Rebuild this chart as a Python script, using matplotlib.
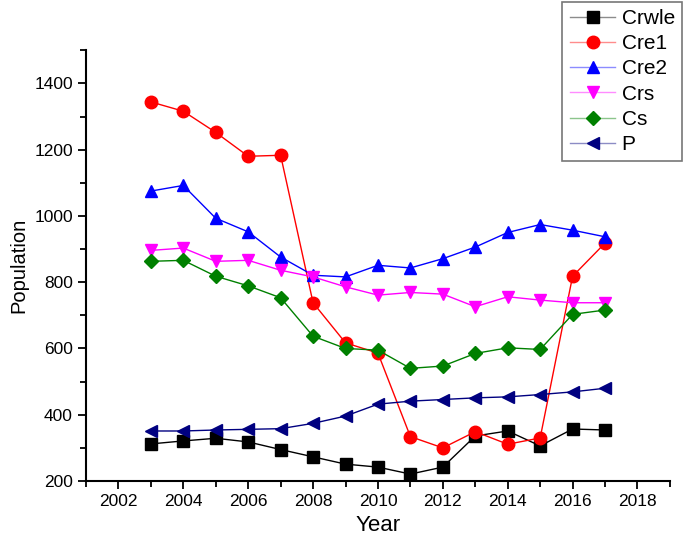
import matplotlib
matplotlib.use("Agg")
import matplotlib.pyplot as plt
from matplotlib.ticker import MultipleLocator
from matplotlib.colors import to_rgba

plt.rcParams['font.family'] = ['Liberation Sans', 'DejaVu Sans']

years = list(range(2003, 2018))
crwle = [312, 321, 329, 318, 295, 273, 251, 242, 221, 242, 336, 351, 306, 357, 354]
cre1 = [1344, 1316, 1252, 1180, 1183, 738, 617, 586, 334, 300, 349, 311, 330, 818, 918]
cre2 = [1075, 1092, 993, 952, 876, 821, 816, 851, 843, 871, 906, 950, 974, 957, 937]
crs = [896, 903, 863, 866, 836, 816, 786, 761, 769, 764, 726, 756, 746, 738, 738]
cs = [863, 866, 818, 789, 753, 637, 600, 595, 540, 547, 585, 602, 597, 703, 716]
p = [351, 351, 354, 356, 358, 374, 396, 432, 441, 446, 451, 454, 461, 469, 480]

series = [
    ("Crwle", crwle, "black", "s", 8),
    ("Cre1", cre1, "red", "o", 9),
    ("Cre2", cre2, "blue", "^", 9),
    ("Crs", crs, "magenta", "v", 9),
    ("Cs", cs, "green", "D", 7.5),
    ("P", p, "navy", "<", 9),
]

fig = plt.figure(figsize=(6.85, 5.46), dpi=100)
ax = fig.add_axes([0.1255, 0.119, 0.8525, 0.789])

for name, vals, col, mk, ms in series:
    ax.plot(years, vals, color=col, marker=mk, markersize=ms, linewidth=1.0,
            markeredgecolor=col, label=name)

ax.set_xlim(2001, 2019)
ax.set_ylim(200, 1500)
ax.xaxis.set_minor_locator(MultipleLocator(1))
ax.yaxis.set_minor_locator(MultipleLocator(100))
ax.set_xticks(range(2002, 2019, 2))
ax.set_yticks(range(200, 1401, 200))

for s in ("top", "right"):
    ax.spines[s].set_visible(False)
for s in ("left", "bottom"):
    ax.spines[s].set_linewidth(1.5)

ax.tick_params(which="major", direction="out", length=6, width=1.3, labelsize=12.5)
ax.tick_params(which="minor", direction="out", length=4, width=1.3)

ax.set_xlabel("Year", fontsize=16)
ax.set_ylabel("Population", fontsize=14.5)

leg = fig.legend(loc="upper right", bbox_to_anchor=(0.996, 0.997), fontsize=15,
                 frameon=True, fancybox=False, edgecolor="#555555",
                 handlelength=2.2, handletextpad=0.3, labelspacing=0.3,
                 borderpad=0.35, borderaxespad=0.0)
leg.get_frame().set_linewidth(1.2)
for line in leg.get_lines():
    c = line.get_color()
    line.set_color(to_rgba(c, 0.45))
    line.set_markerfacecolor(c)
    line.set_markeredgecolor(c)

fig.savefig("out.png", dpi=100)
